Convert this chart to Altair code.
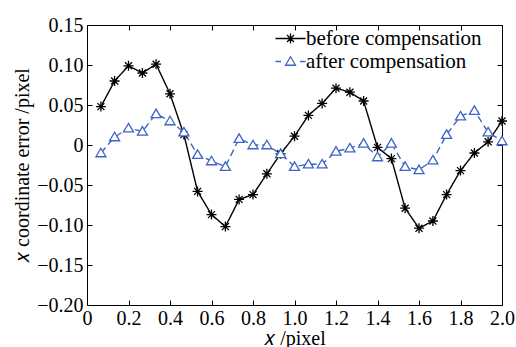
import altair as alt
import pandas as pd

x_vals = [0.067, 0.133, 0.2, 0.267, 0.333, 0.4, 0.467, 0.533, 0.6, 0.667,
          0.733, 0.8, 0.867, 0.933, 1.0, 1.067, 1.133, 1.2, 1.267, 1.333,
          1.4, 1.467, 1.533, 1.6, 1.667, 1.733, 1.8, 1.867, 1.933, 2.0]
before = [0.048, 0.080, 0.099, 0.090, 0.101, 0.064, 0.013, -0.058, -0.087, -0.102,
          -0.068, -0.062, -0.036, -0.011, 0.011, 0.037, 0.052, 0.071, 0.066, 0.055,
          -0.003, -0.017, -0.079, -0.104, -0.095, -0.062, -0.032, -0.010, 0.004, 0.030]
after = [-0.010, 0.010, 0.021, 0.017, 0.039, 0.030, 0.016, -0.012, -0.020, -0.027,
         0.008, 0.000, 0.000, -0.011, -0.027, -0.024, -0.024, -0.008, -0.004, 0.002,
         -0.015, 0.002, -0.027, -0.031, -0.019, 0.013, 0.036, 0.043, 0.016, 0.005]
series_names = ["before compensation", "after compensation"]
x_ticks = [0, 0.2, 0.4, 0.6, 0.8, 1.0, 1.2, 1.4, 1.6, 1.8, 2.0]
y_ticks = [-0.2, -0.15, -0.1, -0.05, 0, 0.05, 0.1, 0.15]

rows = []
for xv, b, a in zip(x_vals, before, after):
    rows.append({"x": xv, "y": b, "series": series_names[0]})
    rows.append({"x": xv, "y": a, "series": series_names[1]})
df = pd.DataFrame(rows)

W, H = 415, 280
FONT = "Liberation Serif"
BLUE = "#3f63c6"
color_scale = alt.Scale(domain=series_names, range=["black", BLUE])

STAR = "M0,-1L0,1M-1,0L1,0M-0.7,-0.7L0.7,0.7M-0.7,0.7L0.7,-0.7"
TRI = "M0,-0.95L1,0.75L-1,0.75Z"
STAR_LEG = "M-3,0L3,0" + STAR
TRI_LEG = "M-3,0L-1.9,0M1.9,0L3,0" + TRI

xs = alt.Scale(domain=[0, 2], nice=False, zero=False)
ys = alt.Scale(domain=[-0.2, 0.15], nice=False, zero=False)

x_main = alt.Axis(values=x_ticks, ticks=False, domain=False, grid=False,
                  labelExpr="datum.value == 0 ? '0' : format(datum.value, '.1f')",
                  labelFont=FONT, labelFontSize=20, labelColor="black", labelPadding=3,
                  labelFlush=False, labelOverlap=False,
                  title="𝑥 /pixel", titleFont=FONT, titleFontSize=20,
                  titleFontWeight="normal", titleColor="black", titlePadding=0)
y_main = alt.Axis(values=y_ticks, ticks=False, domain=False, grid=False,
                  labelExpr="datum.value == 0 ? '0' : replace(format(datum.value, '.2f'), '-', '−')",
                  labelFont=FONT, labelFontSize=20, labelColor="black", labelPadding=4,
                  labelFlush=False, labelOverlap=False,
                  title="𝑥 coordinate error /pixel", titleFont=FONT, titleFontSize=20,
                  titleFontWeight="normal", titleColor="black", titlePadding=4)


def tick_axis(orient, offset, vals):
    return alt.Axis(orient=orient, offset=offset, values=vals, labels=False,
                    domain=False, grid=False, title=None, ticks=True,
                    tickSize=5, tickColor="black", tickWidth=1)


def make_legend():
    return alt.Legend(title=None, orient="none", legendX=184, legendY=3,
                      symbolOpacity=1, labelFont=FONT, labelFontSize=21,
                      labelColor="black", labelLimit=400, symbolOffset=9,
                      labelOffset=5, rowPadding=1, symbolStrokeWidth=1.3)


base = alt.Chart(df)

lines = base.mark_line(strokeWidth=1.4).encode(
    x=alt.X("x:Q", scale=xs, axis=x_main),
    y=alt.Y("y:Q", scale=ys, axis=y_main),
    color=alt.Color("series:N", scale=color_scale, legend=None),
    strokeDash=alt.StrokeDash("series:N",
                              scale=alt.Scale(domain=series_names, range=[[1, 0], [7, 4]]),
                              legend=None),
)

points = base.mark_point(filled=False, fill="white", size=100, strokeWidth=1.3, opacity=1).encode(
    x=alt.X("x:Q", scale=xs, axis=tick_axis("top", -H, x_ticks)),
    y=alt.Y("y:Q", scale=ys, axis=tick_axis("right", -W, y_ticks)),
    color=alt.Color("series:N", scale=color_scale, legend=None),
    shape=alt.Shape("series:N", scale=alt.Scale(domain=series_names, range=[STAR, TRI]),
                    legend=None),
)

legend_layer = base.mark_point(filled=False, fill="white", size=100, strokeWidth=1.3, opacity=0).encode(
    x=alt.X("x:Q", scale=xs, axis=tick_axis("bottom", -H, x_ticks)),
    y=alt.Y("y:Q", scale=ys, axis=tick_axis("left", -W, y_ticks)),
    color=alt.Color("series:N", scale=color_scale, legend=make_legend()),
    shape=alt.Shape("series:N", scale=alt.Scale(domain=series_names, range=[STAR_LEG, TRI_LEG]),
                    legend=make_legend()),
)

chart = alt.layer(lines, points, legend_layer).resolve_scale(
    color="independent", shape="independent", strokeDash="independent"
).resolve_axis(
    x="independent", y="independent"
).properties(
    width=W, height=H,
    autosize=alt.AutoSizeParams(type="none"),
    padding={"left": 87, "top": 25, "right": 14, "bottom": 42},
    background="white",
).configure_view(stroke="black", strokeWidth=1)

chart.save("out.html", embed_options={"renderer": "svg", "actions": False})
